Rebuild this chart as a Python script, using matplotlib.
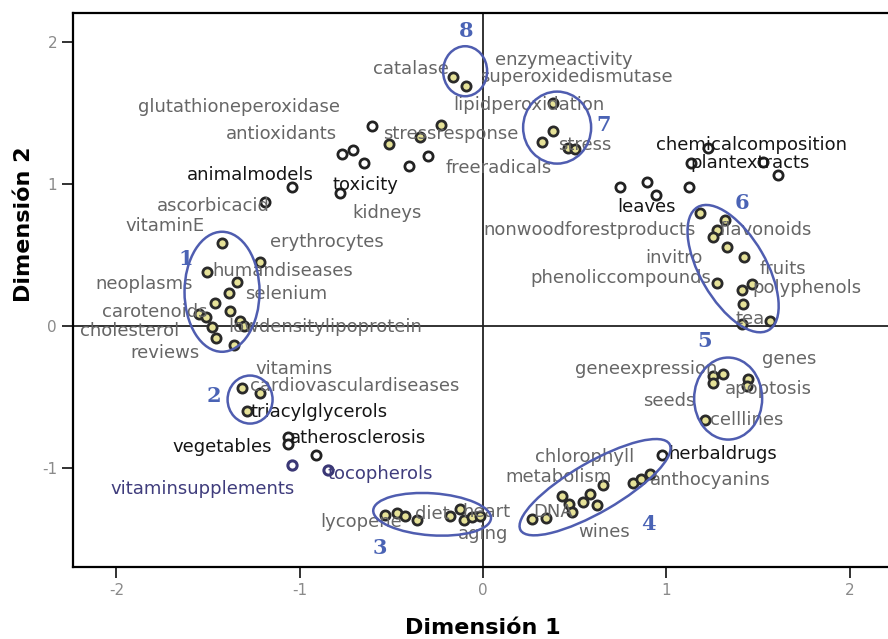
import matplotlib
matplotlib.use("Agg")
import matplotlib.pyplot as plt
from matplotlib.patches import Ellipse
from matplotlib.transforms import Affine2D

plt.rcParams["axes.unicode_minus"] = False

# points outside the marked clusters (open circles)
open_x = [-0.606, -0.769, -0.709, -0.649, -0.404, -0.300, -1.042, -0.780, -1.189,
          0.747, 0.895, 0.944, 1.124, 1.227, 1.135, 1.528, 1.609,
          -1.064, -1.064, -0.911, 0.977]
open_y = [1.411, 1.213, 1.241, 1.149, 1.128, 1.199, 0.979, 0.936, 0.872,
          0.979, 1.014, 0.922, 0.979, 1.255, 1.149, 1.156, 1.064,
          -0.780, -0.830, -0.908, -0.908]
purple_x = [-1.042, -0.846]
purple_y = [-0.979, -1.014]

# points inside the clusters (yellow filled)
clus_x = [-0.164, -0.093,
          -0.513, -0.344, -0.229,
          0.382, 0.382, 0.322, 0.464, 0.502,
          1.184, 1.320, 1.277, 1.255, 1.331, 1.424, 1.277, 1.468, 1.413, 1.418, 1.566, 1.413,
          -1.424, -1.217, -1.506, -1.342, -1.386, -1.462, -1.549, -1.511, -1.380, -1.326,
          -1.304, -1.478, -1.457, -1.358,
          -1.315, -1.217, -1.287,
          -0.535, -0.469, -0.426, -0.360, -0.180, -0.125, -0.104, -0.060, -0.016,
          0.267, 0.344, 0.431, 0.469, 0.486, 0.546, 0.584, 0.622, 0.655, 0.818, 0.862, 0.911,
          1.255, 1.309, 1.255, 1.446, 1.440, 1.211]
clus_y = [1.752, 1.688,
          1.284, 1.333, 1.418,
          1.567, 1.376, 1.298, 1.255, 1.248,
          0.794, 0.745, 0.674, 0.624, 0.553, 0.489, 0.305, 0.298, 0.255, 0.156, 0.035, 0.014,
          0.582, 0.454, 0.383, 0.312, 0.234, 0.163, 0.085, 0.064, 0.106, 0.035,
          0.000, -0.007, -0.085, -0.135,
          -0.440, -0.475, -0.596,
          -1.333, -1.319, -1.340, -1.369, -1.340, -1.291, -1.369, -1.348, -1.340,
          -1.362, -1.355, -1.199, -1.255, -1.312, -1.241, -1.184, -1.262, -1.121, -1.106, -1.078, -1.043,
          -0.355, -0.340, -0.404, -0.376, -0.426, -0.660]

# term labels: text, left x, centre y, colour kind
terms = ["catalase", "enzymeactivity", "superoxidedismutase", "lipidperoxidation",
         "glutathioneperoxidase", "antioxidants", "stressresponse", "stress", "freeradicals",
         "animalmodels", "toxicity", "kidneys", "ascorbicacid", "vitaminE",
         "chemicalcomposition", "plantextracts", "leaves", "nonwoodforestproducts", "flavonoids",
         "invitro", "phenoliccompounds", "fruits", "polyphenols", "tea",
         "erythrocytes", "humandiseases", "neoplasms", "selenium", "carotenoids",
         "lowdensitylipoprotein", "cholesterol", "reviews", "vitamins", "cardiovasculardiseases",
         "triacylglycerols", "atherosclerosis", "vegetables", "tocopherols", "vitaminsupplements",
         "lycopene", "diet", "heart", "DNA", "aging",
         "genes", "geneexpression", "apoptosis", "seeds", "celllines",
         "herbaldrugs", "chlorophyll", "metabolism", "anthocyanins", "wines"]
term_x = [-0.600, 0.065, -0.016, -0.164,
          -1.882, -1.402, -0.546, 0.409, -0.202,
          -1.615, -0.824, -0.715, -1.779, -1.953,
          0.944, 1.129, 0.731, 0.000, 1.293,
          0.884, 0.256, 1.511, 1.468, 1.375,
          -1.162, -1.478, -2.117, -1.298, -2.079,
          -1.391, -2.199, -1.926, -1.244, -1.271,
          -1.271, -1.053, -1.697, -0.846, -2.035,
          -0.889, -0.371, -0.115, 0.273, -0.136,
          1.522, 0.502, 1.320, 0.873, 1.238,
          1.009, 0.284, 0.120, 0.911, 0.518]
term_y = [1.809, 1.872, 1.752, 1.553,
          1.539, 1.355, 1.355, 1.277, 1.113,
          1.064, 0.993, 0.794, 0.844, 0.702,
          1.277, 1.149, 0.837, 0.674, 0.674,
          0.482, 0.340, 0.404, 0.270, 0.050,
          0.589, 0.390, 0.298, 0.227, 0.099,
          -0.007, -0.035, -0.191, -0.305, -0.426,
          -0.603, -0.787, -0.851, -1.043, -1.149,
          -1.383, -1.326, -1.312, -1.312, -1.468,
          -0.234, -0.305, -0.447, -0.525, -0.660,
          -0.901, -0.922, -1.064, -1.085, -1.454]
term_kind = ["g", "g", "g", "g",
             "g", "g", "g", "g", "g",
             "k", "k", "g", "g", "g",
             "k", "k", "k", "g", "g",
             "g", "g", "g", "g", "g",
             "g", "g", "g", "g", "g",
             "g", "g", "g", "g", "g",
             "k", "k", "k", "p", "p",
             "g", "g", "g", "g", "g",
             "g", "g", "g", "g", "g",
             "k", "g", "g", "g", "g"]

# hand drawn cluster rings: number, centre, size in pixels, tilt
ring_num = ["1", "2", "3", "4", "5", "6", "7", "8"]
ring_cx = [-1.424, -1.271, -0.278, 0.611, 1.337, 1.364, 0.404, -0.098]
ring_cy = [0.241, -0.518, -1.326, -1.135, -0.511, 0.404, 1.397, 1.794]
ring_w = [75, 45, 118, 172, 68, 142, 68, 44]
ring_h = [120, 48, 42, 50, 82, 66, 72, 50]
ring_ang = [0, 0, -4, 30, 0, -60, 0, 0]
num_x = [-1.620, -1.468, -0.562, 0.900, 1.211, 1.413, 0.655, -0.093]
num_y = [0.475, -0.496, -1.560, -1.397, -0.106, 0.865, 1.418, 2.078]

colors = {"g": "#666666", "k": "#151515", "p": "#3f3c7c"}
ppx, ppy = 183.3, 142.0

fig = plt.figure(figsize=(8.88, 6.39), dpi=100)
ax = fig.add_axes([73 / 888, 1 - 567 / 639, 1 - 73 / 888, (567 - 13) / 639])
ax.set_xlim(-2.237, 2.209)
ax.set_ylim(-1.697, 2.204)

ax.axhline(0, color="#222222", lw=1.3, zorder=1)
ax.axvline(0, color="#222222", lw=1.3, zorder=1)

ax.scatter(open_x, open_y, s=44, facecolors="white", edgecolors="#222222", linewidths=2.0, zorder=3)
ax.scatter(purple_x, purple_y, s=44, facecolors="white", edgecolors="#3a3775", linewidths=2.2, zorder=3)
ax.scatter(clus_x, clus_y, s=44, facecolors="#e6e298", edgecolors="#2a2a2a", linewidths=2.0, zorder=3)

for t, x, y, k in zip(terms, term_x, term_y, term_kind):
    ax.text(x, y, t, fontsize=13, color=colors[k], ha="left", va="center", zorder=4)

for n, cx, cy, w, h, a, nx, ny in zip(ring_num, ring_cx, ring_cy, ring_w, ring_h, ring_ang, num_x, num_y):
    tr = Affine2D().scale(1 / ppx, 1 / ppy).translate(cx, cy) + ax.transData
    ax.add_patch(Ellipse((0, 0), w, h, angle=a, fill=False, ec="#4f5db0", lw=1.8, transform=tr, zorder=5))
    ax.text(nx, ny, n, fontsize=15, color="#4a63b5", family="DejaVu Serif", fontweight="bold",
            ha="center", va="center", zorder=5)

ax.set_xticks([-2, -1, 0, 1, 2])
ax.set_yticks([-1, 0, 1, 2])
ax.tick_params(direction="out", length=8, width=1.3, colors="#222222", labelcolor="#8a8a8a", labelsize=11)
for side in ["left", "bottom", "top"]:
    ax.spines[side].set_linewidth(1.6)
ax.spines["right"].set_visible(False)

fig.text(483 / 888, 1 - 628 / 639, "Dimensión 1", fontsize=16, fontweight="bold", ha="center", va="center")
fig.text(24 / 888, 1 - 224 / 639, "Dimensión 2", fontsize=16, fontweight="bold", rotation=90, ha="center", va="center")

fig.savefig("out.png", dpi=100)
